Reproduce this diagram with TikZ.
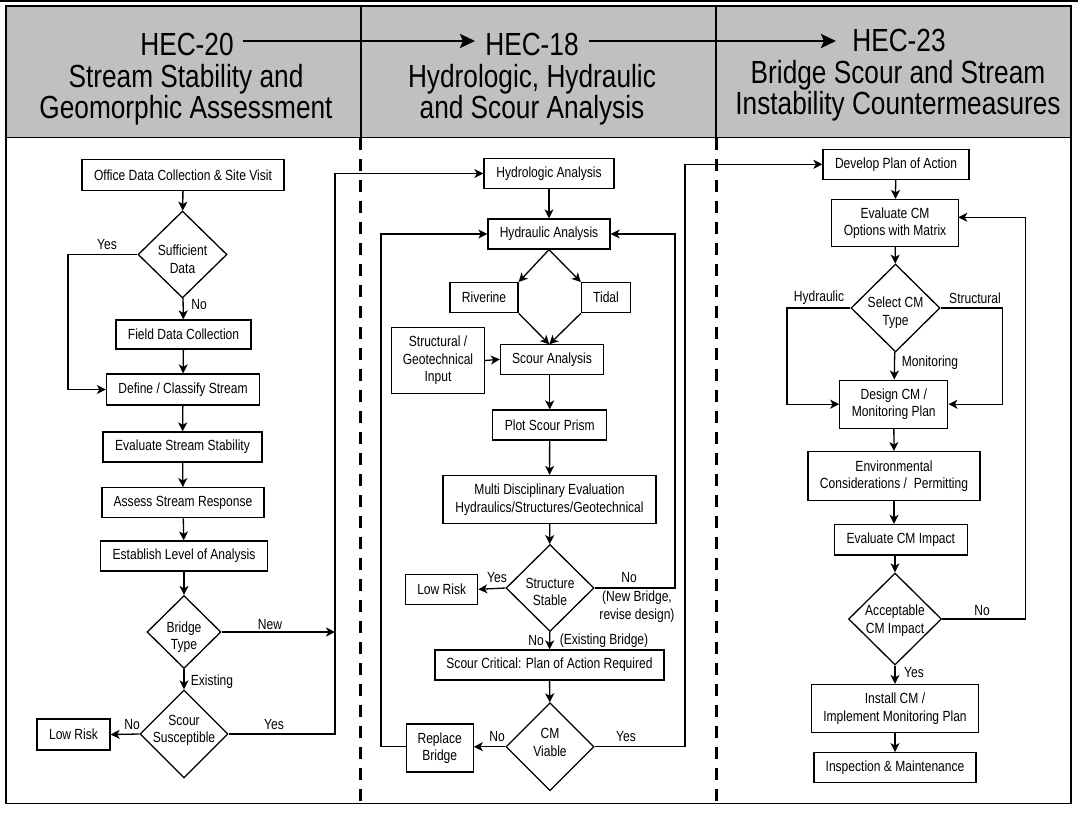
\documentclass[tikz,border=0pt]{standalone}
\usepackage{fontspec}
\setmainfont{Liberation Sans}[FakeStretch=0.82]
\usetikzlibrary{shapes.geometric,arrows.meta,calc}
\newcommand\dtx[2]{\raisebox{#1}[0pt][0pt]{\begin{tabular}{@{}c@{}}#2\end{tabular}}}
\begin{document}
\begin{tikzpicture}[x=1pt,y=-1pt,
  every node/.style={font=\fontsize{14.7}{17.5}\selectfont, text=black},
  box/.style={draw, line width=1.3pt, inner sep=0pt, align=center},
  dia/.style={draw, line width=1.3pt, shape=diamond, inner sep=0pt},
  con/.style={line width=1.3pt},
  arr/.style={line width=1.3pt, -{Stealth[length=9pt,width=9pt,inset=2.5pt]}},
  harrow/.style={line width=2.6pt, -{Stealth[length=15pt,width=14pt,inset=3pt]}},
  lab/.style={inner sep=0pt},
  head/.style={font=\fontsize{32}{31.5}\selectfont, inner sep=0pt, anchor=base},
  divider/.style={line width=3pt, dash pattern=on 12pt off 9pt}
]
\useasboundingbox (0,0) rectangle (1078,812);
% frame and header
\fill[white] (0,0) rectangle (1078,812);
\draw[line width=1.5pt] (0,0.75) -- (1078,0.75);
\fill[fill={rgb,255:red,192;green,192;blue,192}] (6,6) rectangle (1071,137.5);
\draw[line width=1.8pt] (6,6) rectangle (1071,803.5);
\draw[line width=1.8pt] (6,137.5) -- (1071,137.5);
\draw[line width=2pt] (360.7,6) -- (360.7,137.5);
\draw[line width=2pt] (716,6) -- (716,137.5);
\draw[divider] (360.7,137.5) -- (360.7,803.5);
\draw[divider] (716,137.5) -- (716,803.5);

\node[head] (h20) at (187,55.5) {HEC-20};
\node[head] (h20a) at (186,87.5) {Stream Stability and};
\node[head] (h20b) at (186,118.5) {Geomorphic Assessment};
\node[head] (h18) at (532,55.5) {HEC-18};
\node[head] (h18a) at (532,87.5) {Hydrologic, Hydraulic};
\node[head] (h18b) at (532,118.5) {and Scour Analysis};
\node[head] (h23) at (899,51.5) {HEC-23};
\node[head] (h23a) at (898,83.5) {Bridge Scour and Stream};
\node[head] (h23b) at (898,114.5) {Instability Countermeasures};
\coordinate (ha1) at (243,41);
\coordinate (ha2) at (475,41);
\coordinate (hb1) at (589,41);
\coordinate (hb2) at (836,41);
\draw[harrow] (ha1) -- (ha2);
\draw[harrow] (hb1) -- (hb2);

% ---------------- left column
\node[box, minimum width=202pt, minimum height=31pt] (office) at (183,175) {Office Data Collection \& Site Visit};
\node[dia, minimum width=89pt, minimum height=87pt] (suff) at (182.5,254.5) {\dtx{-10pt}{Sufficient\\Data}};
\node[box, minimum width=135pt, minimum height=29pt] (field) at (183.5,334.5) {Field Data Collection};
\node[box, minimum width=153pt, minimum height=31pt] (define) at (183,389.5) {Define / Classify Stream};
\node[box, minimum width=159pt, minimum height=30pt] (evalstab) at (182.5,447) {Evaluate Stream Stability};
\node[box, minimum width=162pt, minimum height=30pt] (assess) at (183,502.7) {Assess Stream Response};
\node[box, minimum width=167pt, minimum height=30pt] (establish) at (184,556) {Establish Level of Analysis};
\node[dia, minimum width=74pt, minimum height=73pt] (btype) at (184,632) {\dtx{-9pt}{Bridge\\Type}};
\node[dia, minimum width=88pt, minimum height=88pt] (scoursus) at (184,734) {\dtx{0pt}{Scour\\Susceptible}};
\node[box, minimum width=73pt, minimum height=31pt] (lowrisk1) at (73.5,734.5) {Low Risk};

\draw[arr] (office) -- (suff);
\coordinate (yl) at (68,254.5);
\draw[arr] (suff.west) -- (yl) |- (define.west);
\node[lab] (lyes1) at (107,245) {Yes};
\draw[arr] (suff) -- (field);
\node[lab] (lno1) at (199,305) {No};
\draw[arr] (field) -- (define);
\draw[arr] (define) -- (evalstab);
\draw[arr] (evalstab) -- (assess);
\draw[arr] (assess) -- (establish);
\draw[arr] (establish) -- (btype);
\coordinate (jnew) at (335,632);
\draw[arr] (btype.east) -- (jnew);
\node[lab] (lnew) at (270,625) {New};
\draw[arr] (btype) -- (scoursus);
\node[lab] (lexist) at (212,682) {Existing};
\draw[arr] (scoursus.west) -- (lowrisk1.east);
\node[lab] (lno2) at (132,724) {No};

% ---------------- middle column
\node[box, minimum width=130pt, minimum height=30pt] (hydro) at (549,173.5) {Hydrologic Analysis};
\node[box, minimum width=122pt, minimum height=30pt] (hydra) at (549,234) {Hydraulic Analysis};
\node[box, minimum width=68pt, minimum height=30pt] (river) at (484,297.7) {Riverine};
\node[box, minimum width=49pt, minimum height=30pt] (tidal) at (606,297.7) {Tidal};
\node[box, minimum width=93pt, minimum height=66pt] (struct) at (438,360.5) {Structural /\\Geotechnical\\Input};
\node[box, minimum width=103pt, minimum height=30pt] (scour) at (552,359.3) {Scour Analysis};
\node[box, minimum width=114pt, minimum height=30pt] (plot) at (549.7,425) {Plot Scour Prism};
\node[box, minimum width=213pt, minimum height=48pt] (multi) at (549.5,499.5) {Multi Disciplinary Evaluation\\Hydraulics/Structures/Geotechnical};
\node[dia, minimum width=88pt, minimum height=87pt] (sstable) at (550,588) {\dtx{-9pt}{Structure\\Stable}};
\node[box, minimum width=72pt, minimum height=30pt] (lowrisk2) at (441.7,589.3) {Low Risk};
\node[box, minimum width=229pt, minimum height=30pt] (critical) at (549.5,665) {Scour Critical: Plan of Action Required};
\node[dia, minimum width=88pt, minimum height=88pt] (cmv) at (550,746.7) {\dtx{-1pt}{CM\\Viable}};
\node[box, minimum width=67pt, minimum height=48pt] (replace) at (439.7,748) {Replace\\Bridge};

\coordinate (ys) at (335,734);
\draw[arr] (scoursus.east) -- (ys) |- (hydro.west);
\node[lab] (lyes2) at (274,724) {Yes};
\draw[arr] (hydro) -- (hydra);
\draw[arr] (hydra.south) -- (river.north east);
\draw[arr] (hydra.south) -- (tidal.north west);
\coordinate (sn) at (549.3,344.3);
\draw[arr] (river.south east) -- (sn);
\draw[arr] (tidal.south west) -- (sn);
\draw[arr] (struct.east) -- (scour.west);
\draw[arr] (scour.south -| plot.north) -- (plot.north);
\draw[arr] (plot) -- (multi);
\draw[arr] (multi) -- (sstable);
\draw[arr] (sstable.west) -- (lowrisk2.east);
\node[lab] (lyes3) at (497,578) {Yes};
\coordinate (rno) at (675,588);
\draw[arr] (sstable.east) -- (rno) |- (hydra.east);
\node[lab] (lno3) at (629,578) {No};
\node[lab, align=center] (lnewb) at (637,606.5) {(New Bridge,\\revise design)};
\draw[arr] (sstable) -- (critical);
\node[lab] (lno4) at (536,640.5) {No};
\node[lab] (lexb) at (604,640.5) {(Existing Bridge)};
\draw[arr] (critical) -- (cmv);
\draw[arr] (cmv.west) -- (cmv.west -| replace.east);
\node[lab] (lno5) at (497,737) {No};
\coordinate (rpl) at (381,746.7);
\draw[arr] (replace.west |- rpl) -- (rpl) |- (hydra.west);

% ---------------- right column
\node[box, minimum width=146pt, minimum height=30pt] (develop) at (896,164.3) {Develop Plan of Action};
\node[box, minimum width=127pt, minimum height=47pt] (evalcm) at (895,223) {Evaluate CM\\Options with Matrix};
\node[dia, minimum width=89pt, minimum height=88pt] (select) at (895.5,308) {\dtx{-8.5pt}{Select CM\\Type}};
\node[box, minimum width=108pt, minimum height=48pt] (design) at (893.8,404.2) {Design CM /\\Monitoring Plan};
\node[box, minimum width=172pt, minimum height=49pt] (env) at (894,476.2) {Environmental\\Considerations /\ \ Permitting};
\node[box, minimum width=133pt, minimum height=30.5pt] (impact) at (900.8,539.7) {Evaluate CM Impact};
\node[dia, minimum width=93pt, minimum height=92pt] (accept) at (895,619) {\dtx{-5.5pt}{Acceptable\\CM Impact}};
\node[box, minimum width=167pt, minimum height=48pt] (install) at (895,708.5) {Install CM /\\Implement Monitoring Plan};
\node[box, minimum width=162pt, minimum height=30pt] (inspect) at (895,767.7) {Inspection \& Maintenance};

\coordinate (cy) at (685,746.7);
\draw[arr] (cmv.east) -- (cy) |- (develop.west);
\node[lab] (lyes4) at (626,737) {Yes};
\draw[arr] (develop) -- (evalcm);
\draw[arr] (evalcm) -- (select);
\coordinate (hy) at (787,308);
\draw[arr] (select.west) -- (hy) |- (design.west);
\node[lab] (lhyd) at (819,298) {Hydraulic};
\coordinate (st) at (1002.3,308);
\draw[arr] (select.east) -- (st) |- (design.east);
\node[lab] (lstr) at (975,298) {Structural};
\draw[arr] (select) -- (design);
\node[lab] (lmon) at (930,363) {Monitoring};
\draw[arr] (design) -- (env);
\draw[arr] (env.south) -- (env.south |- impact.north);
\draw[arr] (impact.south -| accept.north) -- (accept.north);
\coordinate (an) at (1025.7,619);
\coordinate (ae) at (958.3,217.3);
\draw[arr] (accept.east) -- (an) |- (ae);
\node[lab] (lno6) at (982,611) {No};
\draw[arr] (accept) -- (install);
\node[lab] (lyes5) at (914,673) {Yes};
\draw[arr] (install) -- (inspect);
\end{tikzpicture}
\end{document}
